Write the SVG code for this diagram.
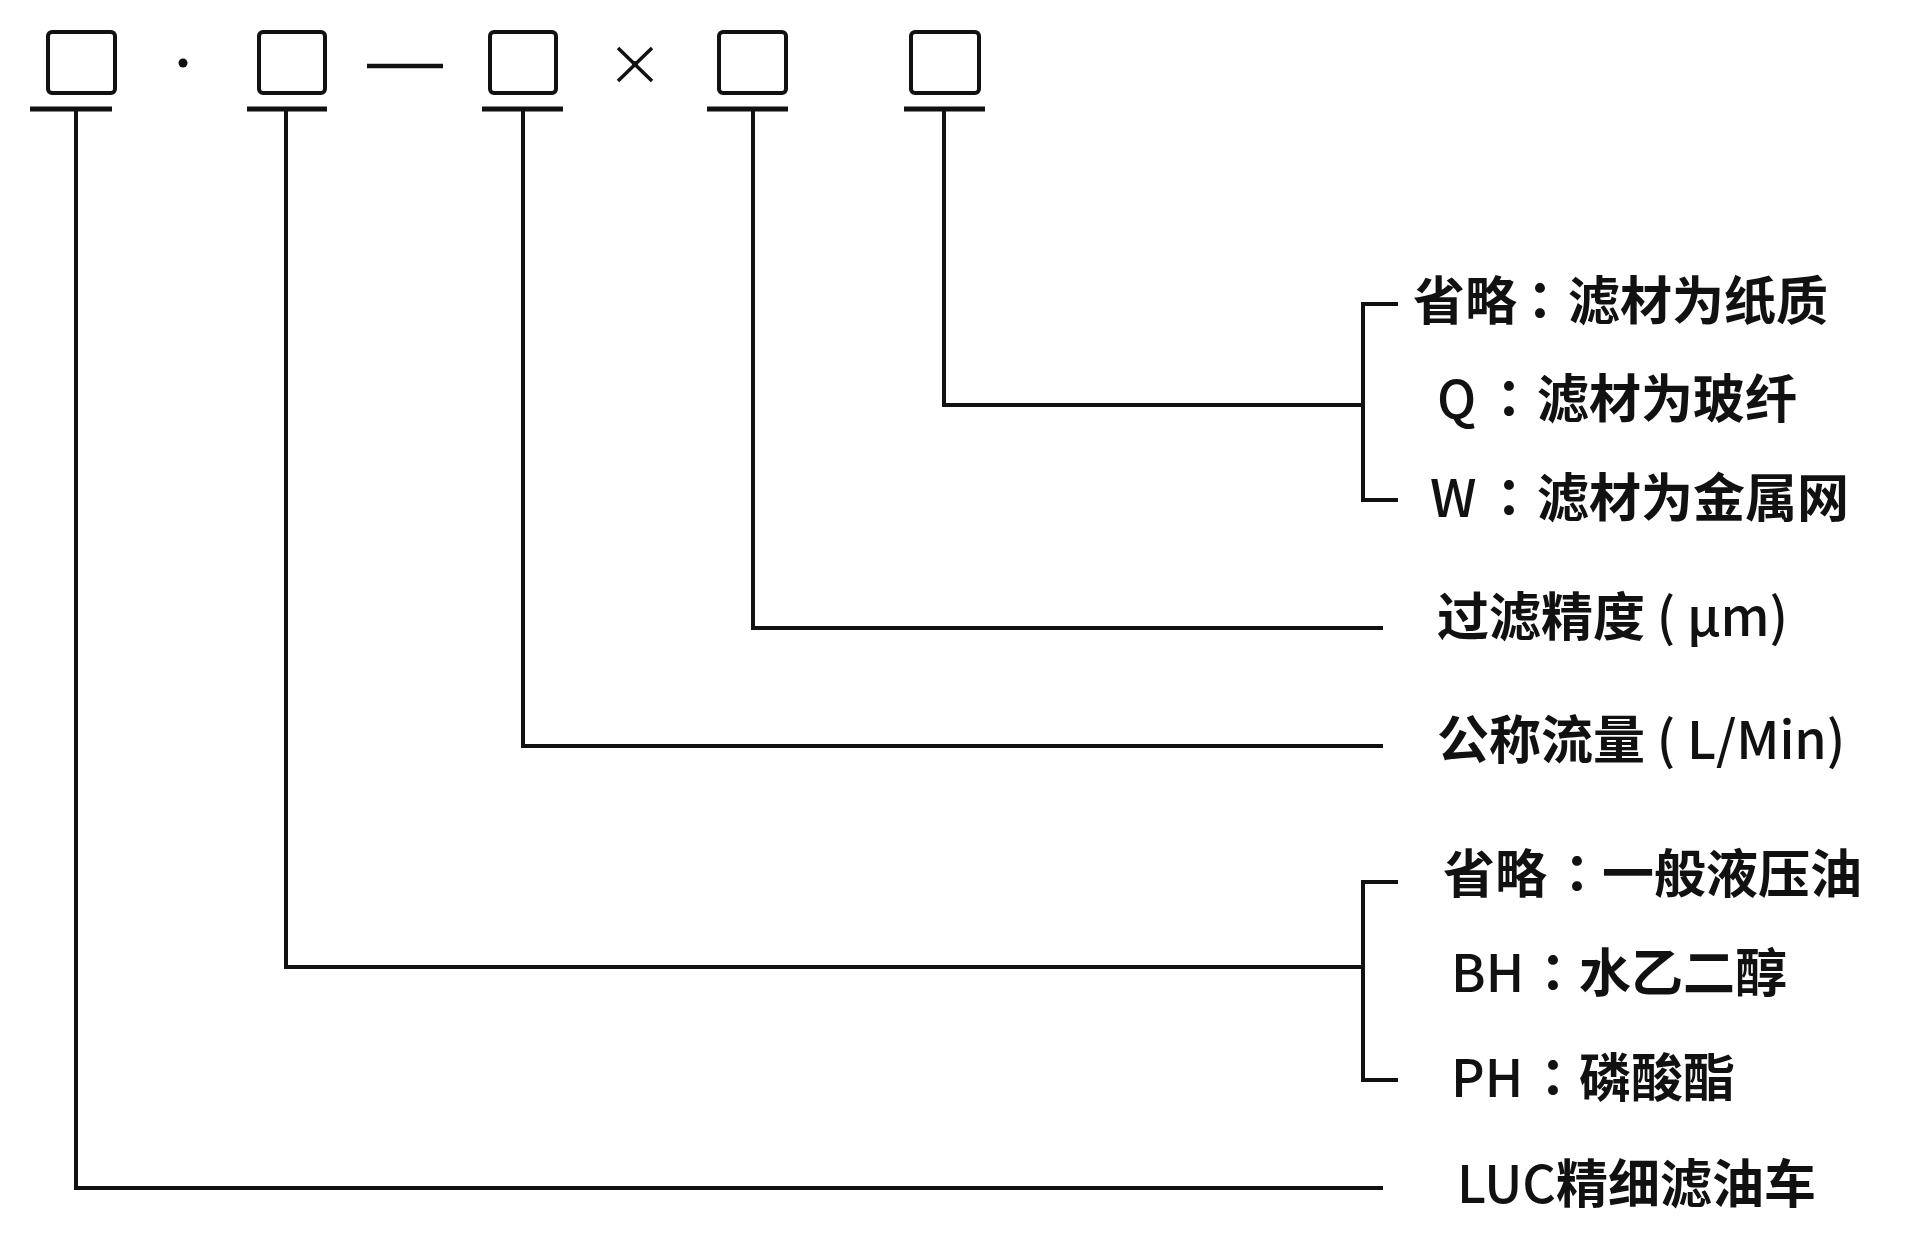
<svg xmlns="http://www.w3.org/2000/svg" width="1920" height="1260" viewBox="0 0 1920 1260">
<style>
.box{fill:none;stroke:#111;stroke-width:4}
.ul{stroke:#111;stroke-width:5;stroke-linecap:butt}
.ln{fill:none;stroke:#111;stroke-width:4;stroke-linejoin:miter}
.t{font-family:"Noto Sans CJK SC","Noto Sans",sans-serif;font-size:52px;font-weight:600;fill:#111}
.c{font-family:"Noto Sans CJK TC","Noto Sans CJK SC",sans-serif}
.l{font-weight:500}
</style>
<rect width="1920" height="1260" fill="#fff"/>
<g id="sep">
<circle cx="183" cy="63" r="4.5" fill="#111"/>
<line x1="367" y1="66" x2="443" y2="66" stroke="#111" stroke-width="4.5"/>
<path d="M618 48 L652 81 M652 48 L618 81" stroke="#111" stroke-width="3.5" fill="none"/>
<circle cx="635" cy="64" r="3" fill="#111"/>
</g>
<g id="node1"><rect class="box" x="48" y="32" width="67" height="61" rx="4"/><line class="ul" x1="30" y1="109" x2="112" y2="109"/></g>
<g id="node2"><rect class="box" x="259" y="32" width="66" height="61" rx="4"/><line class="ul" x1="247" y1="109" x2="327" y2="109"/></g>
<g id="node3"><rect class="box" x="490" y="32" width="66" height="61" rx="4"/><line class="ul" x1="482" y1="109" x2="563" y2="109"/></g>
<g id="node4"><rect class="box" x="719" y="32" width="67" height="61" rx="4"/><line class="ul" x1="707" y1="109" x2="788" y2="109"/></g>
<g id="node5"><rect class="box" x="911" y="32" width="68" height="61" rx="4"/><line class="ul" x1="904" y1="109" x2="985" y2="109"/></g>
<g id="connectors">
<path class="ln" d="M944 109 V405 H1363"/>
<path class="ln" d="M1398 304 H1363 V500 H1398"/>
<path class="ln" d="M753 109 V628 H1383"/>
<path class="ln" d="M523 109 V746 H1383"/>
<path class="ln" d="M286 109 V967 H1363"/>
<path class="ln" d="M1398 882 H1363 V1080 H1398"/>
<path class="ln" d="M76 109 V1188 H1383"/>
</g>
<g id="labels">
<text class="t" x="1413" y="320">省略<tspan class="c" x="1540" text-anchor="middle">：</tspan><tspan x="1568">滤材为纸质</tspan></text>
<text class="t" x="1437" y="418"><tspan class="l">Q</tspan><tspan class="c" x="1509" text-anchor="middle">：</tspan><tspan x="1537">滤材为玻纤</tspan></text>
<text class="t" x="1430" y="517"><tspan class="l">W</tspan><tspan class="c" x="1509" text-anchor="middle">：</tspan><tspan x="1537">滤材为金属网</tspan></text>
<text class="t" x="1437" y="636">过滤精度<tspan class="l"> ( μm)</tspan></text>
<text class="t" x="1437" y="759">公称流量<tspan class="l"> ( L/Min)</tspan></text>
<text class="t" x="1443" y="893">省略<tspan class="c" x="1577" text-anchor="middle">：</tspan><tspan x="1602">一般液压油</tspan></text>
<text class="t" x="1451" y="992"><tspan class="l">BH</tspan><tspan class="c" x="1553" text-anchor="middle">：</tspan><tspan x="1579">水乙二醇</tspan></text>
<text class="t" x="1451" y="1097"><tspan class="l">PH</tspan><tspan class="c" x="1553" text-anchor="middle">：</tspan><tspan x="1579">磷酸酯</tspan></text>
<text class="t" x="1457" y="1203"><tspan class="l">LUC</tspan>精细滤油车</text>
</g>
</svg>
